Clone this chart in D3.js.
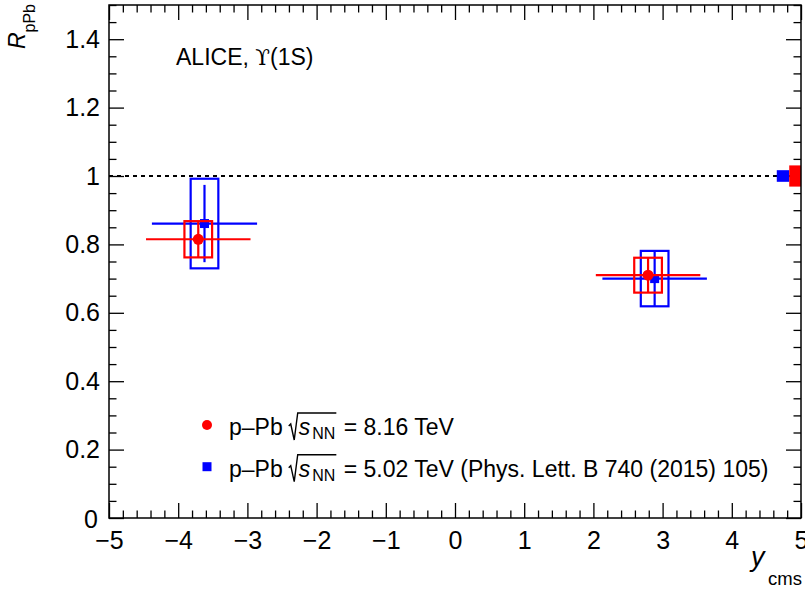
<!DOCTYPE html>
<html><head><meta charset="utf-8">
<script src="https://cdn.jsdelivr.net/npm/d3@7"></script>
<style>
body{margin:0;background:#fff;}
svg{display:block;font-family:"Liberation Sans",Arial,sans-serif;}
</style></head><body>
<svg id="c" width="805" height="594"></svg>
<script>
// ---- data ----
const xTicks = [-5,-4,-3,-2,-1,0,1,2,3,4,5];
const yTicks = [0,0.2,0.4,0.6,0.8,1,1.2,1.4];
const yTickLabels = ["0","0.2","0.4","0.6","0.8","1","1.2","1.4"];
const xTickLabels = ["\u22125","\u22124","\u22123","\u22122","\u22121","0","1","2","3","4","5"];

// p-Pb 8.16 TeV (red)
const rap816 = [-3.71, 2.79];
const xerr816 = [0.755, 0.755];
const val816 = [0.815, 0.71];
const stat816 = [0.053, 0.051];
const syst816 = [0.053, 0.051];
const glob816 = 0.031;

// p-Pb 5.02 TeV (blue)
const rap502 = [-3.62, 2.885];
const xerr502 = [0.76, 0.755];
const val502 = [0.861, 0.70];
const stat502 = [0.113, 0.081];
const syst502 = [0.131, 0.081];
const glob502 = 0.017;

const boxHalf = 0.2;

// ---- layout ----
const svg = d3.select("#c");
const L = 109, R = 801, T = 5, B = 518;
const x = d3.scaleLinear().domain([-5,5]).range([L,R]);
const y = d3.scaleLinear().domain([0,1.5]).range([B,T]);
const RED = "#ff0000", BLUE = "#0000ff";

const minorX = d3.range(-50,51,2).map(d=>d/10).filter(d=>!xTicks.includes(d));
const minorY = d3.range(0,31,1).map(d=>d*0.05).filter(d=>Math.abs(d/0.2-Math.round(d/0.2))>1e-6);

function styleAxis(g){
  g.select(".domain").remove();
  g.selectAll("line").attr("stroke","#000").attr("stroke-width",1.3);
  g.selectAll("text").attr("font-size",25).attr("fill","#000").attr("font-family",'"Liberation Sans",Arial,sans-serif');
}

// dashed line at 1
svg.append("line").attr("x1",x(-5)).attr("x2",x(5)).attr("y1",y(1)).attr("y2",y(1))
  .attr("stroke","#000").attr("stroke-width",1.8).attr("stroke-dasharray","4,4");

// axes
const gB = svg.append("g").attr("transform",`translate(0,${B})`)
  .call(d3.axisBottom(x).tickValues(xTicks).tickSize(-15).tickPadding(13).tickFormat((d,i)=>xTickLabels[i]));
styleAxis(gB);
const gBm = svg.append("g").attr("transform",`translate(0,${B})`)
  .call(d3.axisBottom(x).tickValues(minorX).tickSize(-7.5).tickFormat(""));
styleAxis(gBm);
const gT = svg.append("g").attr("transform",`translate(0,${T})`)
  .call(d3.axisTop(x).tickValues(xTicks).tickSize(-15).tickFormat(""));
styleAxis(gT);
const gTm = svg.append("g").attr("transform",`translate(0,${T})`)
  .call(d3.axisTop(x).tickValues(minorX).tickSize(-7.5).tickFormat(""));
styleAxis(gTm);
const gL = svg.append("g").attr("transform",`translate(${L},0)`)
  .call(d3.axisLeft(y).tickValues(yTicks).tickSize(-15).tickPadding(9).tickFormat((d,i)=>yTickLabels[i]));
styleAxis(gL);
gL.selectAll(".tick text").filter(d=>d===0).attr("dy","0.36em").attr("x",-11);
const gLm = svg.append("g").attr("transform",`translate(${L},0)`)
  .call(d3.axisLeft(y).tickValues(minorY).tickSize(-7.5).tickFormat(""));
styleAxis(gLm);
const gR = svg.append("g").attr("transform",`translate(${R},0)`)
  .call(d3.axisRight(y).tickValues(yTicks).tickSize(-15).tickFormat(""));
styleAxis(gR);
const gRm = svg.append("g").attr("transform",`translate(${R},0)`)
  .call(d3.axisRight(y).tickValues(minorY).tickSize(-7.5).tickFormat(""));
styleAxis(gRm);

// data drawing
function drawSeries(rap, xerr, val, stat, syst, color, marker){
  const g = svg.append("g");
  rap.forEach((r,i)=>{
    g.append("rect").attr("x",x(r-boxHalf)).attr("y",y(val[i]+syst[i]))
      .attr("width",x(r+boxHalf)-x(r-boxHalf)).attr("height",y(val[i]-syst[i])-y(val[i]+syst[i]))
      .attr("fill","none").attr("stroke",color).attr("stroke-width",2.2);
    g.append("line").attr("x1",x(r-xerr[i])).attr("x2",x(r+xerr[i])).attr("y1",y(val[i])).attr("y2",y(val[i]))
      .attr("stroke",color).attr("stroke-width",2.2);
    g.append("line").attr("x1",x(r)).attr("x2",x(r)).attr("y1",y(val[i]-stat[i])).attr("y2",y(val[i]+stat[i]))
      .attr("stroke",color).attr("stroke-width",2.2);
    if(marker==="circle"){
      g.append("circle").attr("cx",x(r)).attr("cy",y(val[i])).attr("r",5.5).attr("fill",color);
    } else {
      g.append("rect").attr("x",x(r)-4.5).attr("y",y(val[i])-4.5).attr("width",9).attr("height",9).attr("fill",color);
    }
  });
}
drawSeries(rap502, xerr502, val502, stat502, syst502, BLUE, "square");
drawSeries(rap816, xerr816, val816, stat816, syst816, RED, "circle");

// global uncertainty boxes
svg.append("rect").attr("x",x(4.65)).attr("y",y(1+glob502)).attr("width",x(4.83)-x(4.65))
  .attr("height",y(1-glob502)-y(1+glob502)).attr("fill",BLUE);
svg.append("rect").attr("x",x(4.83)).attr("y",y(1+glob816)).attr("width",x(5.0)-x(4.83))
  .attr("height",y(1-glob816)-y(1+glob816)).attr("fill",RED);

// frame
svg.append("rect").attr("x",L).attr("y",T).attr("width",R-L).attr("height",B-T)
  .attr("fill","none").attr("stroke","#000").attr("stroke-width",1.5);

// axis titles
const yt = svg.append("text").attr("transform",`translate(25,4) rotate(-90)`)
  .attr("text-anchor","end").attr("font-size",23).attr("fill","#000");
yt.append("tspan").attr("font-style","italic").text("R");
yt.append("tspan").attr("font-size",16).attr("dy",10).text("pPb");

svg.append("text").attr("x",751).attr("y",566).attr("font-size",27).attr("font-style","italic").text("y");
svg.append("text").attr("x",802).attr("y",585).attr("text-anchor","end").attr("font-size",18.5).text("cms");

// ALICE label
const al = svg.append("text").attr("x",176).attr("y",65).attr("font-size",23);
al.append("tspan").text("ALICE, ");
al.append("tspan").attr("font-family",'"DejaVu Serif",serif').attr("font-size",21.5).text("\u03D2");
al.append("tspan").text("(1S)");

// legend
function legendEntry(yb, color, marker, post){
  const g = svg.append("g");
  if(marker==="circle") g.append("circle").attr("cx",207).attr("cy",yb-10).attr("r",5).attr("fill",color);
  else g.append("rect").attr("x",202.5).attr("y",yb-14.5).attr("width",9).attr("height",9).attr("fill",color);
  let cx = 229;
  const t1 = g.append("text").attr("x",cx).attr("y",yb).attr("font-size",23).text("p\u2013Pb");
  cx += t1.node().getComputedTextLength() + 6;
  const r0 = cx;
  cx += 10;
  const ts = g.append("text").attr("x",cx).attr("y",yb).attr("font-size",23).attr("font-style","italic").text("s");
  cx += ts.node().getComputedTextLength() + 2;
  const tn = g.append("text").attr("x",cx).attr("y",yb+4).attr("font-size",16).text("NN");
  cx += tn.node().getComputedTextLength() + 1;
  g.append("path").attr("d",`M${r0},${yb-9} L${r0+2},${yb-11} L${r0+5.5},${yb+5} L${r0+9},${yb-22} L${cx},${yb-22}`)
    .attr("fill","none").attr("stroke","#000").attr("stroke-width",1.4);
  g.append("text").attr("x",cx+1).attr("y",yb).attr("font-size",23).attr("xml:space","preserve").text(post);
}
legendEntry(435, RED, "circle", " = 8.16 TeV");
legendEntry(476.7, BLUE, "square", " = 5.02 TeV (Phys. Lett. B 740 (2015) 105)");
</script>
</body></html>
